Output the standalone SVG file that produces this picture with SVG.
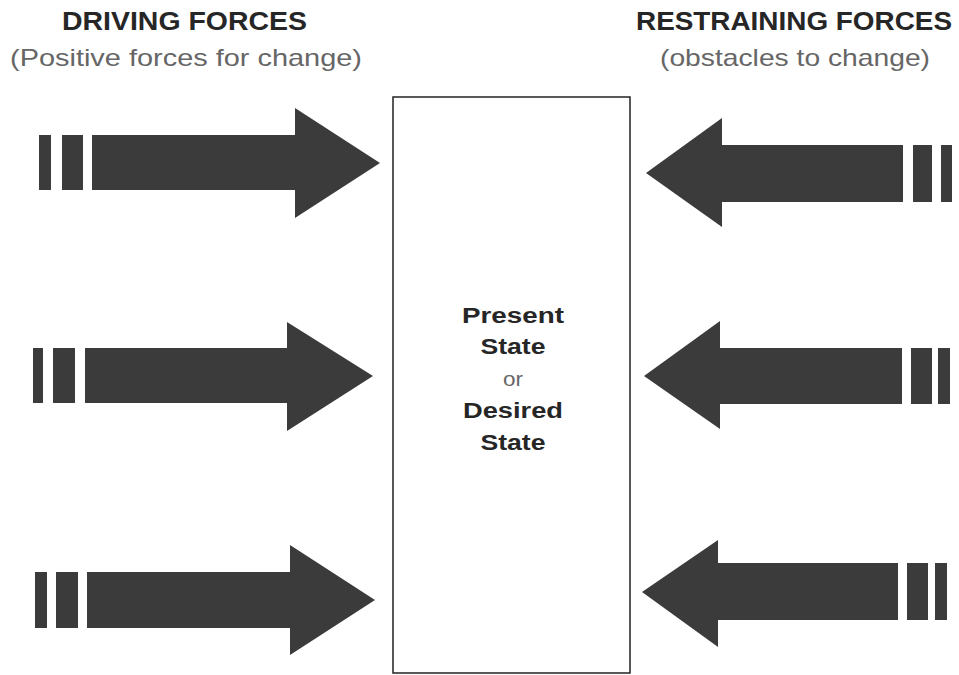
<svg xmlns="http://www.w3.org/2000/svg" width="959" height="675" viewBox="0 0 959 675">
  <style>
    .head { font-family: "Liberation Sans", Arial, sans-serif; font-weight: bold; font-size: 25px; fill: #262626; }
    .sub { font-family: "Liberation Sans", Arial, sans-serif; font-size: 24px; fill: #666666; }
    .state { font-family: "Liberation Sans", Arial, sans-serif; font-weight: bold; font-size: 22px; fill: #262626; text-anchor: middle; }
    .or { font-family: "Liberation Sans", Arial, sans-serif; font-size: 20px; fill: #666666; text-anchor: middle; }
    .arrow { fill: #3b3b3b; }
    .box { fill: #ffffff; stroke: #222222; stroke-width: 1.5; }
  </style>
  <rect width="959" height="675" fill="#ffffff"/>

  <g id="headings">
    <text class="head" x="62" y="30" textLength="245" lengthAdjust="spacingAndGlyphs">DRIVING FORCES</text>
    <text class="sub" x="10" y="66" textLength="352" lengthAdjust="spacingAndGlyphs">(Positive forces for change)</text>
    <text class="head" x="636" y="30" textLength="316" lengthAdjust="spacingAndGlyphs">RESTRAINING FORCES</text>
    <text class="sub" x="660" y="66" textLength="270" lengthAdjust="spacingAndGlyphs">(obstacles to change)</text>
  </g>

  <g id="state-box">
    <rect class="box" x="393" y="97" width="237" height="576"/>
    <text class="state" x="513" y="323" textLength="102" lengthAdjust="spacingAndGlyphs">Present</text>
    <text class="state" x="513" y="354" textLength="65" lengthAdjust="spacingAndGlyphs">State</text>
    <text class="or" x="513" y="386" textLength="20" lengthAdjust="spacingAndGlyphs">or</text>
    <text class="state" x="513" y="418" textLength="100" lengthAdjust="spacingAndGlyphs">Desired</text>
    <text class="state" x="513" y="450" textLength="65" lengthAdjust="spacingAndGlyphs">State</text>
  </g>

  <g id="connectors">
    <g id="driving-1">
      <rect class="arrow" x="39" y="135" width="12" height="55"/>
      <rect class="arrow" x="62" y="135" width="21" height="55"/>
      <polygon class="arrow" points="92,135 295,135 295,108 380,163 295,218 295,190 92,190"/>
    </g>
    <g id="driving-2">
      <rect class="arrow" x="33" y="348" width="10" height="55"/>
      <rect class="arrow" x="53" y="348" width="22" height="55"/>
      <polygon class="arrow" points="85,348 287,348 287,322 373,376 287,431 287,403 85,403"/>
    </g>
    <g id="driving-3">
      <rect class="arrow" x="35" y="572" width="12" height="56"/>
      <rect class="arrow" x="56" y="572" width="22" height="56"/>
      <polygon class="arrow" points="87,572 290,572 290,545 375,600 290,655 290,628 87,628"/>
    </g>
    <g id="restraining-1">
      <rect class="arrow" x="941" y="145" width="11" height="57"/>
      <rect class="arrow" x="913" y="145" width="19" height="57"/>
      <polygon class="arrow" points="903,145 722,145 722,118 646,173 722,227 722,202 903,202"/>
    </g>
    <g id="restraining-2">
      <rect class="arrow" x="938" y="348" width="12" height="56"/>
      <rect class="arrow" x="911" y="348" width="21" height="56"/>
      <polygon class="arrow" points="902,348 720,348 720,321 644,376 720,429 720,404 902,404"/>
    </g>
    <g id="restraining-3">
      <rect class="arrow" x="935" y="563" width="12" height="57"/>
      <rect class="arrow" x="907" y="563" width="21" height="57"/>
      <polygon class="arrow" points="898,563 718,563 718,540 642,592 718,647 718,620 898,620"/>
    </g>
  </g>
</svg>
